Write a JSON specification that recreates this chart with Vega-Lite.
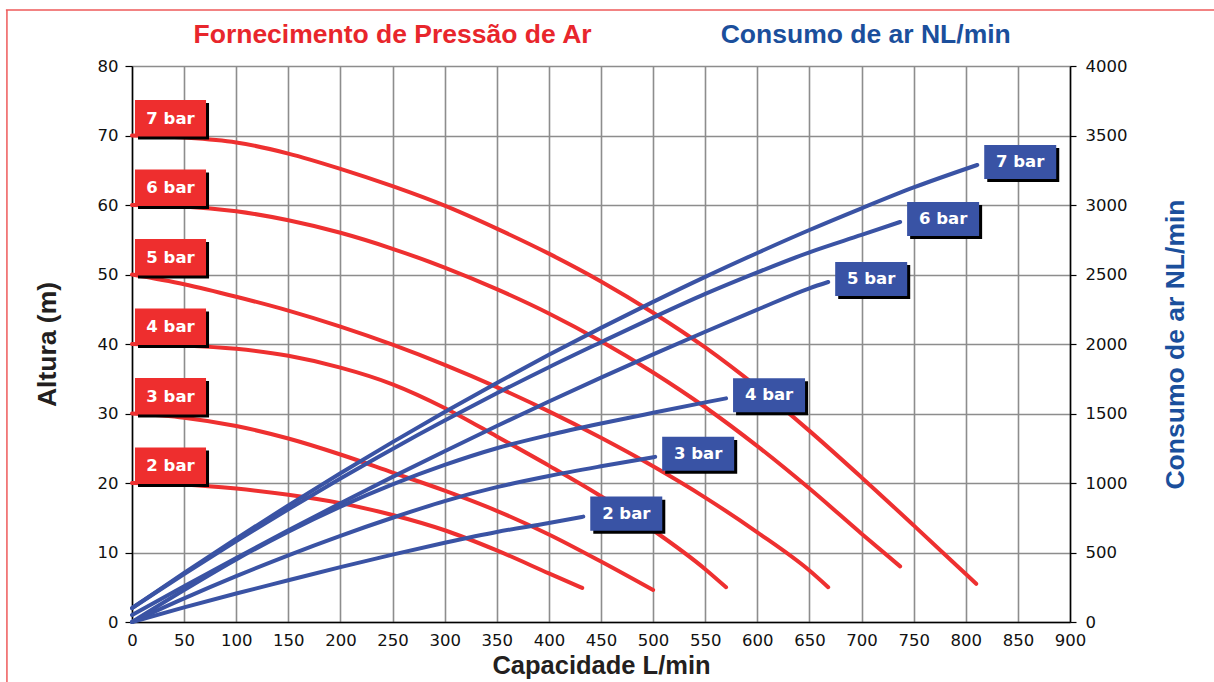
{
  "$schema": "https://vega.github.io/schema/vega-lite/v6.json",
  "width": 938,
  "height": 556,
  "autosize": "none",
  "padding": {"left": 132, "top": 66, "right": 144, "bottom": 60},
  "background": "white",
  "config": {"view": {"stroke": null}},
  "datasets": {
    "alt": [
      {"pressao": "7 bar", "capacidade": 0, "altura": 70}, {"pressao": "7 bar", "capacidade": 50, "altura": 69.7}, {"pressao": "7 bar", "capacidade": 100, "altura": 69.0}, {"pressao": "7 bar", "capacidade": 150, "altura": 67.4}, {"pressao": "7 bar", "capacidade": 200, "altura": 65.2}, {"pressao": "7 bar", "capacidade": 250, "altura": 62.7}, {"pressao": "7 bar", "capacidade": 300, "altura": 59.9}, {"pressao": "7 bar", "capacidade": 350, "altura": 56.6}, {"pressao": "7 bar", "capacidade": 400, "altura": 53.0}, {"pressao": "7 bar", "capacidade": 450, "altura": 49.0}, {"pressao": "7 bar", "capacidade": 500, "altura": 44.5}, {"pressao": "7 bar", "capacidade": 550, "altura": 39.5}, {"pressao": "7 bar", "capacidade": 600, "altura": 33.8}, {"pressao": "7 bar", "capacidade": 650, "altura": 27.5}, {"pressao": "7 bar", "capacidade": 700, "altura": 20.8}, {"pressao": "7 bar", "capacidade": 750, "altura": 13.9}, {"pressao": "7 bar", "capacidade": 800, "altura": 6.9}, {"pressao": "7 bar", "capacidade": 810, "altura": 5.5},
      {"pressao": "6 bar", "capacidade": 0, "altura": 60}, {"pressao": "6 bar", "capacidade": 50, "altura": 59.8}, {"pressao": "6 bar", "capacidade": 100, "altura": 59.1}, {"pressao": "6 bar", "capacidade": 150, "altura": 57.8}, {"pressao": "6 bar", "capacidade": 200, "altura": 56.0}, {"pressao": "6 bar", "capacidade": 250, "altura": 53.7}, {"pressao": "6 bar", "capacidade": 300, "altura": 51.0}, {"pressao": "6 bar", "capacidade": 350, "altura": 47.9}, {"pressao": "6 bar", "capacidade": 400, "altura": 44.4}, {"pressao": "6 bar", "capacidade": 450, "altura": 40.4}, {"pressao": "6 bar", "capacidade": 500, "altura": 35.9}, {"pressao": "6 bar", "capacidade": 550, "altura": 30.9}, {"pressao": "6 bar", "capacidade": 600, "altura": 25.3}, {"pressao": "6 bar", "capacidade": 650, "altura": 19.2}, {"pressao": "6 bar", "capacidade": 700, "altura": 12.7}, {"pressao": "6 bar", "capacidade": 737, "altura": 8.0},
      {"pressao": "5 bar", "capacidade": 0, "altura": 50}, {"pressao": "5 bar", "capacidade": 50, "altura": 48.6}, {"pressao": "5 bar", "capacidade": 100, "altura": 46.8}, {"pressao": "5 bar", "capacidade": 150, "altura": 44.8}, {"pressao": "5 bar", "capacidade": 200, "altura": 42.5}, {"pressao": "5 bar", "capacidade": 250, "altura": 39.9}, {"pressao": "5 bar", "capacidade": 300, "altura": 37.0}, {"pressao": "5 bar", "capacidade": 350, "altura": 33.8}, {"pressao": "5 bar", "capacidade": 400, "altura": 30.3}, {"pressao": "5 bar", "capacidade": 450, "altura": 26.5}, {"pressao": "5 bar", "capacidade": 500, "altura": 22.4}, {"pressao": "5 bar", "capacidade": 550, "altura": 17.9}, {"pressao": "5 bar", "capacidade": 600, "altura": 12.9}, {"pressao": "5 bar", "capacidade": 650, "altura": 7.4}, {"pressao": "5 bar", "capacidade": 668, "altura": 5.0},
      {"pressao": "4 bar", "capacidade": 0, "altura": 40}, {"pressao": "4 bar", "capacidade": 50, "altura": 39.8}, {"pressao": "4 bar", "capacidade": 100, "altura": 39.3}, {"pressao": "4 bar", "capacidade": 150, "altura": 38.3}, {"pressao": "4 bar", "capacidade": 200, "altura": 36.6}, {"pressao": "4 bar", "capacidade": 250, "altura": 34.2}, {"pressao": "4 bar", "capacidade": 300, "altura": 30.8}, {"pressao": "4 bar", "capacidade": 350, "altura": 26.7}, {"pressao": "4 bar", "capacidade": 400, "altura": 22.5}, {"pressao": "4 bar", "capacidade": 450, "altura": 18.1}, {"pressao": "4 bar", "capacidade": 500, "altura": 13.2}, {"pressao": "4 bar", "capacidade": 550, "altura": 7.6}, {"pressao": "4 bar", "capacidade": 570, "altura": 5.0},
      {"pressao": "3 bar", "capacidade": 0, "altura": 30}, {"pressao": "3 bar", "capacidade": 50, "altura": 29.4}, {"pressao": "3 bar", "capacidade": 100, "altura": 28.2}, {"pressao": "3 bar", "capacidade": 150, "altura": 26.4}, {"pressao": "3 bar", "capacidade": 200, "altura": 24.1}, {"pressao": "3 bar", "capacidade": 250, "altura": 21.5}, {"pressao": "3 bar", "capacidade": 300, "altura": 18.9}, {"pressao": "3 bar", "capacidade": 350, "altura": 16.0}, {"pressao": "3 bar", "capacidade": 400, "altura": 12.6}, {"pressao": "3 bar", "capacidade": 450, "altura": 8.7}, {"pressao": "3 bar", "capacidade": 500, "altura": 4.6},
      {"pressao": "2 bar", "capacidade": 0, "altura": 20}, {"pressao": "2 bar", "capacidade": 50, "altura": 19.8}, {"pressao": "2 bar", "capacidade": 100, "altura": 19.2}, {"pressao": "2 bar", "capacidade": 150, "altura": 18.3}, {"pressao": "2 bar", "capacidade": 200, "altura": 17.1}, {"pressao": "2 bar", "capacidade": 250, "altura": 15.4}, {"pressao": "2 bar", "capacidade": 300, "altura": 13.2}, {"pressao": "2 bar", "capacidade": 350, "altura": 10.3}, {"pressao": "2 bar", "capacidade": 400, "altura": 7.0}, {"pressao": "2 bar", "capacidade": 432, "altura": 4.9}
    ],
    "ar": [
      {"pressao": "7 bar", "capacidade": 0, "consumo": 100}, {"pressao": "7 bar", "capacidade": 50, "consumo": 354}, {"pressao": "7 bar", "capacidade": 100, "consumo": 600}, {"pressao": "7 bar", "capacidade": 150, "consumo": 839}, {"pressao": "7 bar", "capacidade": 200, "consumo": 1070}, {"pressao": "7 bar", "capacidade": 250, "consumo": 1294}, {"pressao": "7 bar", "capacidade": 300, "consumo": 1511}, {"pressao": "7 bar", "capacidade": 350, "consumo": 1720}, {"pressao": "7 bar", "capacidade": 400, "consumo": 1922}, {"pressao": "7 bar", "capacidade": 450, "consumo": 2116}, {"pressao": "7 bar", "capacidade": 500, "consumo": 2303}, {"pressao": "7 bar", "capacidade": 550, "consumo": 2483}, {"pressao": "7 bar", "capacidade": 600, "consumo": 2655}, {"pressao": "7 bar", "capacidade": 650, "consumo": 2820}, {"pressao": "7 bar", "capacidade": 700, "consumo": 2976}, {"pressao": "7 bar", "capacidade": 750, "consumo": 3126}, {"pressao": "7 bar", "capacidade": 811, "consumo": 3288},
      {"pressao": "6 bar", "capacidade": 0, "consumo": 100}, {"pressao": "6 bar", "capacidade": 50, "consumo": 345}, {"pressao": "6 bar", "capacidade": 100, "consumo": 582}, {"pressao": "6 bar", "capacidade": 150, "consumo": 811}, {"pressao": "6 bar", "capacidade": 200, "consumo": 1032}, {"pressao": "6 bar", "capacidade": 250, "consumo": 1245}, {"pressao": "6 bar", "capacidade": 300, "consumo": 1449}, {"pressao": "6 bar", "capacidade": 350, "consumo": 1645}, {"pressao": "6 bar", "capacidade": 400, "consumo": 1833}, {"pressao": "6 bar", "capacidade": 450, "consumo": 2013}, {"pressao": "6 bar", "capacidade": 500, "consumo": 2190}, {"pressao": "6 bar", "capacidade": 550, "consumo": 2360}, {"pressao": "6 bar", "capacidade": 600, "consumo": 2515}, {"pressao": "6 bar", "capacidade": 650, "consumo": 2660}, {"pressao": "6 bar", "capacidade": 700, "consumo": 2785}, {"pressao": "6 bar", "capacidade": 737, "consumo": 2878},
      {"pressao": "5 bar", "capacidade": 0, "consumo": 50}, {"pressao": "5 bar", "capacidade": 50, "consumo": 258}, {"pressao": "5 bar", "capacidade": 100, "consumo": 461}, {"pressao": "5 bar", "capacidade": 150, "consumo": 660}, {"pressao": "5 bar", "capacidade": 200, "consumo": 854}, {"pressao": "5 bar", "capacidade": 250, "consumo": 1044}, {"pressao": "5 bar", "capacidade": 300, "consumo": 1229}, {"pressao": "5 bar", "capacidade": 350, "consumo": 1410}, {"pressao": "5 bar", "capacidade": 400, "consumo": 1586}, {"pressao": "5 bar", "capacidade": 450, "consumo": 1758}, {"pressao": "5 bar", "capacidade": 500, "consumo": 1925}, {"pressao": "5 bar", "capacidade": 550, "consumo": 2088}, {"pressao": "5 bar", "capacidade": 600, "consumo": 2247}, {"pressao": "5 bar", "capacidade": 650, "consumo": 2401}, {"pressao": "5 bar", "capacidade": 668, "consumo": 2446},
      {"pressao": "4 bar", "capacidade": 0, "consumo": 0}, {"pressao": "4 bar", "capacidade": 50, "consumo": 230}, {"pressao": "4 bar", "capacidade": 100, "consumo": 450}, {"pressao": "4 bar", "capacidade": 150, "consumo": 650}, {"pressao": "4 bar", "capacidade": 200, "consumo": 830}, {"pressao": "4 bar", "capacidade": 250, "consumo": 990}, {"pressao": "4 bar", "capacidade": 300, "consumo": 1130}, {"pressao": "4 bar", "capacidade": 350, "consumo": 1250}, {"pressao": "4 bar", "capacidade": 400, "consumo": 1345}, {"pressao": "4 bar", "capacidade": 450, "consumo": 1428}, {"pressao": "4 bar", "capacidade": 500, "consumo": 1505}, {"pressao": "4 bar", "capacidade": 550, "consumo": 1580}, {"pressao": "4 bar", "capacidade": 570, "consumo": 1609},
      {"pressao": "3 bar", "capacidade": 0, "consumo": 0}, {"pressao": "3 bar", "capacidade": 50, "consumo": 170}, {"pressao": "3 bar", "capacidade": 100, "consumo": 330}, {"pressao": "3 bar", "capacidade": 150, "consumo": 480}, {"pressao": "3 bar", "capacidade": 200, "consumo": 620}, {"pressao": "3 bar", "capacidade": 250, "consumo": 750}, {"pressao": "3 bar", "capacidade": 300, "consumo": 870}, {"pressao": "3 bar", "capacidade": 350, "consumo": 970}, {"pressao": "3 bar", "capacidade": 400, "consumo": 1050}, {"pressao": "3 bar", "capacidade": 450, "consumo": 1120}, {"pressao": "3 bar", "capacidade": 502, "consumo": 1188},
      {"pressao": "2 bar", "capacidade": 0, "consumo": 0}, {"pressao": "2 bar", "capacidade": 50, "consumo": 105}, {"pressao": "2 bar", "capacidade": 100, "consumo": 205}, {"pressao": "2 bar", "capacidade": 150, "consumo": 300}, {"pressao": "2 bar", "capacidade": 200, "consumo": 395}, {"pressao": "2 bar", "capacidade": 250, "consumo": 485}, {"pressao": "2 bar", "capacidade": 300, "consumo": 570}, {"pressao": "2 bar", "capacidade": 350, "consumo": 648}, {"pressao": "2 bar", "capacidade": 400, "consumo": 712}, {"pressao": "2 bar", "capacidade": 433, "consumo": 758}
    ]
  },
  "layer": [
    {
      "data": {"name": "alt"},
      "layer": [
        {
          "mark": {"type": "line", "color": "#EE3030", "strokeWidth": 4, "interpolate": "monotone", "strokeCap": "round"},
          "encoding": {
            "x": {"field": "capacidade", "type": "quantitative", "scale": {"domain": [0, 900], "nice": false, "zero": false},
              "axis": {"title": "Capacidade L/min", "values": [0, 50, 100, 150, 200, 250, 300, 350, 400, 450, 500, 550, 600, 650, 700, 750, 800, 850, 900],
                "grid": true, "gridColor": "#8d8d8d", "gridWidth": 1.6, "domainColor": "#000000", "domainWidth": 1.5, "ticks": false,
                "labelFont": "DejaVu Sans", "labelFontSize": 16.5, "labelColor": "#111111", "labelPadding": 10, "labelFlush": false, "labelOverlap": false,
                "titleFont": "Liberation Sans", "titleFontSize": 25.5, "titleFontWeight": "bold", "titleColor": "#231F20", "titlePadding": 5}},
            "y": {"field": "altura", "type": "quantitative", "scale": {"domain": [0, 80], "nice": false},
              "axis": {"title": "Altura (m)", "values": [0, 10, 20, 30, 40, 50, 60, 70, 80], "orient": "left",
                "grid": true, "gridColor": "#8d8d8d", "gridWidth": 1.6, "domainColor": "#000000", "domainWidth": 1.5,
                "ticks": true, "tickSize": 7, "tickColor": "#000000", "tickWidth": 1.2,
                "labelFont": "DejaVu Sans", "labelFontSize": 16.5, "labelColor": "#111111", "labelPadding": 7,
                "titleFont": "Liberation Sans", "titleFontSize": 26.5, "titleFontWeight": "bold", "titleColor": "#231F20", "titlePadding": 36}},
            "detail": {"field": "pressao"}
          }
        },
        {
          "transform": [{"filter": "datum.capacidade == 0"}],
          "mark": {"type": "point", "shape": "M0.167,-0.903L2.14,-0.903L2.14,0.111L0.167,0.111Z", "filled": true, "fill": "#000000", "strokeWidth": 0, "opacity": 1, "size": 5184},
          "encoding": {
            "x": {"field": "capacidade", "type": "quantitative"},
            "y": {"field": "altura", "type": "quantitative"}
          }
        },
        {
          "transform": [{"filter": "datum.capacidade == 0"}],
          "mark": {"type": "point", "shape": "M0.083,-0.986L2.056,-0.986L2.056,0.028L0.083,0.028Z", "filled": true, "fill": "#EE2E2E", "strokeWidth": 0, "opacity": 1, "size": 5184},
          "encoding": {
            "x": {"field": "capacidade", "type": "quantitative"},
            "y": {"field": "altura", "type": "quantitative"}
          }
        },
        {
          "transform": [{"filter": "datum.capacidade == 0"}],
          "mark": {"type": "text", "color": "#ffffff", "font": "DejaVu Sans", "fontWeight": "bold", "fontSize": 16.5, "align": "center", "baseline": "middle", "dx": 38.5, "dy": -17},
          "encoding": {
            "x": {"field": "capacidade", "type": "quantitative"},
            "y": {"field": "altura", "type": "quantitative"},
            "text": {"field": "pressao"}
          }
        },
        {
          "data": {"values": [{}]},
          "mark": {"type": "text", "text": "Fornecimento de Pressão de Ar", "color": "#E8262C", "font": "Liberation Sans", "fontWeight": "bold", "fontSize": 26.5, "align": "center", "baseline": "alphabetic", "dy": -22.7},
          "encoding": {"x": {"datum": 250}, "y": {"datum": 80}}
        },
        {
          "data": {"values": [{}]},
          "mark": {"type": "text", "text": "Consumo de ar NL/min", "color": "#1B4F9C", "font": "Liberation Sans", "fontWeight": "bold", "fontSize": 26.5, "align": "center", "baseline": "alphabetic", "dy": -22.7},
          "encoding": {"x": {"datum": 704}, "y": {"datum": 80}}
        },
        {
          "data": {"values": [{}]},
          "mark": {"type": "rule", "color": "#EE5A5A", "strokeWidth": 1.5},
          "encoding": {"x": {"datum": -120}, "y": {"datum": 88.06}, "y2": {"datum": -9}}
        },
        {
          "data": {"values": [{}]},
          "mark": {"type": "rule", "color": "#EE5A5A", "strokeWidth": 1.5},
          "encoding": {"x": {"datum": -121}, "x2": {"datum": 1060}, "y": {"datum": 88.06}}
        }
      ]
    },
    {
      "data": {"name": "ar"},
      "transform": [
        {"joinaggregate": [{"op": "max", "field": "capacidade", "as": "maxcap"}], "groupby": ["pressao"]}
      ],
      "layer": [
        {
          "mark": {"type": "line", "color": "#3A53A4", "strokeWidth": 4, "interpolate": "monotone", "strokeCap": "round"},
          "encoding": {
            "x": {"field": "capacidade", "type": "quantitative", "scale": {"domain": [0, 900], "nice": false, "zero": false}},
            "y": {"field": "consumo", "type": "quantitative", "scale": {"domain": [0, 4000], "nice": false},
              "axis": {"title": "Consumo de ar NL/min", "orient": "right", "values": [0, 500, 1000, 1500, 2000, 2500, 3000, 3500, 4000], "format": "d",
                "grid": false, "domainColor": "#000000", "domainWidth": 1.5,
                "ticks": true, "tickSize": 6, "tickColor": "#000000", "tickWidth": 1.2,
                "labelFont": "DejaVu Sans", "labelFontSize": 16.5, "labelColor": "#111111", "labelPadding": 9,
                "titleFont": "Liberation Sans", "titleFontSize": 26.5, "titleFontWeight": "bold", "titleColor": "#1B4F9C",
                "titleAngle": 270, "titleBaseline": "top", "titlePadding": 36}},
            "detail": {"field": "pressao"}
          }
        },
        {
          "transform": [{"filter": "datum.capacidade == datum.maxcap"}],
          "mark": {"type": "point", "shape": "M0.278,-0.472L2.278,-0.472L2.278,0.472L0.278,0.472Z", "filled": true, "fill": "#000000", "strokeWidth": 0, "opacity": 1, "size": 5184},
          "encoding": {
            "x": {"field": "capacidade", "type": "quantitative"},
            "y": {"field": "consumo", "type": "quantitative"}
          }
        },
        {
          "transform": [{"filter": "datum.capacidade == datum.maxcap"}],
          "mark": {"type": "point", "shape": "M0.194,-0.556L2.194,-0.556L2.194,0.389L0.194,0.389Z", "filled": true, "fill": "#3953A5", "strokeWidth": 0, "opacity": 1, "size": 5184},
          "encoding": {
            "x": {"field": "capacidade", "type": "quantitative"},
            "y": {"field": "consumo", "type": "quantitative"}
          }
        },
        {
          "transform": [{"filter": "datum.capacidade == datum.maxcap"}],
          "mark": {"type": "text", "color": "#ffffff", "font": "DejaVu Sans", "fontWeight": "bold", "fontSize": 16.5, "align": "center", "baseline": "middle", "dx": 43, "dy": -3},
          "encoding": {
            "x": {"field": "capacidade", "type": "quantitative"},
            "y": {"field": "consumo", "type": "quantitative"},
            "text": {"field": "pressao"}
          }
        }
      ]
    }
  ],
  "resolve": {"scale": {"y": "independent"}}
}
